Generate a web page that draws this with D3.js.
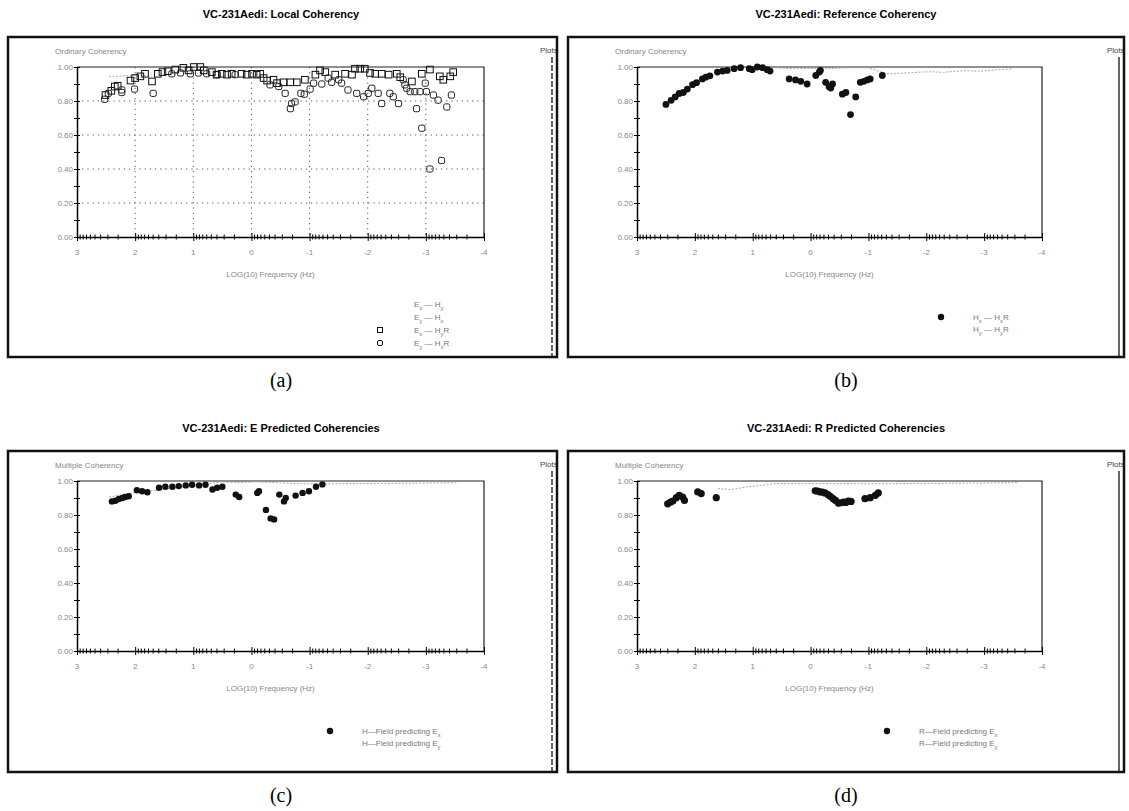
<!DOCTYPE html>
<html>
<head>
<meta charset="utf-8">
<script src="https://cdn.jsdelivr.net/npm/d3@7"></script>
<style>
body { margin: 0; background: #fff; }
text { font-family: "Liberation Sans", Arial, sans-serif; }
</style>
</head>
<body>
<svg id="fig" width="1129" height="811"></svg>
<script>
// ---- data ----
const xTicks = [3, 2, 1, 0, -1, -2, -3, -4];
const xTickLabels = ["3", "2", "1", "0", "-1", "-2", "-3", "-4"];
const yTicks = [0, 0.2, 0.4, 0.6, 0.8, 1.0];
const yTickLabels = ["0.00", "0.20", "0.40", "0.60", "0.80", "1.00"];
const panelTitles = ["VC-231Aedi: Local Coherency", "VC-231Aedi: Reference Coherency",
                     "VC-231Aedi: E Predicted Coherencies", "VC-231Aedi: R Predicted Coherencies"];
const yTitles = ["Ordinary Coherency", "Ordinary Coherency", "Multiple Coherency", "Multiple Coherency"];
const captions = ["(a)", "(b)", "(c)", "(d)"];
const xTitles = ["LOG(10) Frequency (Hz)", "LOG(10) Frequency (Hz)", "LOG(10) Frequency (Hz)", "LOG(10) Frequency (Hz)"];

// (a) local coherency
const localExyR_x = [2.51, 2.41, 2.35, 2.30, 2.08, 2.00, 1.91, 1.83, 1.71, 1.61, 1.53, 1.44, 1.31, 1.17, 1.08, 0.99, 0.88, 0.82, 0.68, 0.60,
                     0.51, 0.42, 0.34, 0.17, 0.08, -0.01, -0.09, -0.15, -0.21, -0.27, -0.38, -0.44, -0.55, -0.67, -0.78, -0.92, -1.10, -1.18, -1.27, -1.44,
                     -1.61, -1.73, -1.78, -1.87, -1.95, -2.04, -2.13, -2.24, -2.36, -2.50, -2.56, -2.76, -2.93, -3.07, -3.24, -3.30, -3.42, -3.47];
const localExyR_y = [0.835, 0.86, 0.885, 0.89, 0.92, 0.935, 0.945, 0.96, 0.915, 0.96, 0.97, 0.975, 0.985, 0.995, 0.98, 1.0, 1.0, 0.98, 0.97, 0.955,
                     0.96, 0.955, 0.96, 0.96, 0.955, 0.96, 0.955, 0.96, 0.935, 0.92, 0.925, 0.905, 0.91, 0.91, 0.91, 0.925, 0.955, 0.98, 0.97, 0.955,
                     0.96, 0.955, 0.99, 0.99, 0.99, 0.965, 0.96, 0.96, 0.955, 0.96, 0.94, 0.915, 0.96, 0.985, 0.945, 0.925, 0.945, 0.97];
const localEyxR_x = [2.525, 2.46, 2.23, 2.23, 2.01, 1.69, 1.37, 1.22, 1.05, 0.91, 0.77, 0.59, 0.28, -0.32, -0.47, -0.58, -0.69, -0.67, -0.75, -0.85,
                     -0.91, -1.01, -1.07, -1.21, -1.32, -1.38, -1.50, -1.55, -1.66, -1.81, -1.93, -2.01, -2.07, -2.18, -2.24, -2.38, -2.44, -2.53, -2.61, -2.64,
                     -2.67, -2.73, -2.81, -2.84, -2.90, -2.93, -2.99, -3.01, -3.07, -3.13, -3.21, -3.27, -3.36, -3.44];
const localEyxR_y = [0.81, 0.845, 0.865, 0.85, 0.87, 0.845, 0.96, 0.965, 0.96, 0.965, 0.96, 0.955, 0.955, 0.895, 0.885, 0.845, 0.785, 0.755, 0.795, 0.845,
                     0.84, 0.87, 0.905, 0.9, 0.935, 0.91, 0.925, 0.905, 0.865, 0.845, 0.825, 0.845, 0.875, 0.845, 0.785, 0.845, 0.825, 0.785, 0.925, 0.895,
                     0.875, 0.855, 0.855, 0.755, 0.855, 0.64, 0.905, 0.855, 0.40, 0.835, 0.805, 0.45, 0.765, 0.835];
const localExy_x = [2.45, 2.3, 2.15, 2.0, 1.85, 1.72];
const localExy_y = [0.945, 0.945, 0.95, 0.95, 0.95, 0.945];

// (b) reference coherency
const refHx_x = [2.50, 2.41, 2.34, 2.27, 2.20, 2.13, 2.04, 1.97, 1.87, 1.81, 1.74, 1.61, 1.52, 1.44, 1.32, 1.21, 1.06, 1.01, 0.92, 0.83,
                 0.75, 0.70, 0.37, 0.26, 0.17, 0.06, -0.09, -0.15, -0.17, -0.26, -0.32, -0.35, -0.38, -0.55, -0.61, -0.69, -0.78, -0.86, -0.92, -0.98,
                 -1.03, -1.24];
const refHx_y = [0.78, 0.804, 0.824, 0.844, 0.85, 0.87, 0.896, 0.908, 0.93, 0.94, 0.948, 0.97, 0.976, 0.98, 0.99, 0.996, 0.99, 0.984, 1.0, 0.996,
                 0.984, 0.976, 0.93, 0.924, 0.916, 0.90, 0.95, 0.97, 0.98, 0.91, 0.884, 0.876, 0.90, 0.84, 0.85, 0.72, 0.824, 0.91, 0.916, 0.924,
                 0.93, 0.95];
const refHy_x = [0.6, 0.3, 0.0, -0.3, -0.6, -1.0, -1.32, -1.5, -1.7, -1.9, -2.1, -2.3, -2.5, -2.7, -2.9, -3.1, -3.3, -3.5];
const refHy_y = [0.995, 0.99, 0.992, 0.99, 0.995, 0.995, 0.96, 0.962, 0.966, 0.97, 0.972, 0.968, 0.975, 0.978, 0.975, 0.98, 0.985, 0.99];

// (c) E predicted coherencies
const ePredEx_x = [2.40, 2.34, 2.28, 2.22, 2.17, 2.11, 1.97, 1.88, 1.79, 1.59, 1.48, 1.36, 1.25, 1.13, 1.02, 0.90, 0.79, 0.67, 0.59, 0.50,
                   0.27, 0.21, -0.10, -0.13, -0.25, -0.33, -0.39, -0.48, -0.56, -0.59, -0.76, -0.88, -0.99, -1.11, -1.22];
const ePredEx_y = [0.88, 0.884, 0.894, 0.90, 0.906, 0.91, 0.946, 0.94, 0.934, 0.96, 0.966, 0.966, 0.97, 0.974, 0.978, 0.974, 0.978, 0.95, 0.96, 0.966,
                   0.92, 0.906, 0.93, 0.94, 0.83, 0.78, 0.774, 0.92, 0.88, 0.90, 0.914, 0.93, 0.94, 0.966, 0.98];
const ePredEy_x = [2.45, 2.3, 2.15, 0.5, 0.2, -0.1, -0.4, -0.8, -1.22, -1.5, -1.8, -2.1, -2.4, -2.7, -3.0, -3.3, -3.55];
const ePredEy_y = [0.905, 0.915, 0.925, 0.995, 0.99, 0.995, 0.99, 0.985, 0.982, 0.984, 0.985, 0.985, 0.986, 0.987, 0.988, 0.989, 0.99];

// (d) R predicted coherencies
const rPredEx_x = [2.47, 2.42, 2.38, 2.32, 2.27, 2.21, 2.18, 1.95, 1.89, 1.63, -0.08, -0.12, -0.16, -0.20, -0.25, -0.30, -0.34, -0.39, -0.43, -0.48,
                   -0.52, -0.57, -0.61, -0.65, -0.70, -0.94, -1.03, -1.12, -1.17];
const rPredEx_y = [0.866, 0.876, 0.882, 0.902, 0.916, 0.906, 0.886, 0.936, 0.926, 0.902, 0.942, 0.94, 0.936, 0.934, 0.93, 0.92, 0.91, 0.896, 0.886, 0.87,
                   0.872, 0.876, 0.874, 0.882, 0.88, 0.896, 0.902, 0.916, 0.93];
const rPredEy_x = [1.6, 1.37, 1.08, 0.85, 0.6, -1.3, -1.6, -1.9, -2.2, -2.5, -2.8, -3.1, -3.4, -3.6];
const rPredEy_y = [0.955, 0.95, 0.966, 0.975, 0.985, 0.984, 0.985, 0.986, 0.986, 0.987, 0.988, 0.988, 0.99, 0.99];

const legendA = ["E_x — H_y", "E_y — H_x", "E_x — H_yR", "E_y — H_xR"];
const legendB = ["H_x — H_xR", "H_y — H_yR"];
const legendC = ["H—Field predicting E_x", "H—Field predicting E_y"];
const legendD = ["R—Field predicting E_x", "R—Field predicting E_y"];

// ---- layout ----
const panels = [
    { fx: 8,   fy: 37,  fw: 549, fh: 320, px0: 77,  px1: 484,  py0: 67,  py1: 237, cx: 281 },
    { fx: 568, fy: 37,  fw: 556, fh: 320, px0: 637, px1: 1042, py0: 67,  py1: 237, cx: 846 },
    { fx: 8,   fy: 451, fw: 549, fh: 321, px0: 77,  px1: 484,  py0: 481, py1: 651, cx: 281 },
    { fx: 568, fy: 451, fw: 556, fh: 321, px0: 637, px1: 1042, py0: 481, py1: 651, cx: 846 }
];

const svg = d3.select("#fig");

function zip(xs, ys) { return xs.map((x, i) => [x, ys[i]]); }

// label with "_c" meaning subscript c
function richText(sel, str) {
    let parts = str.split(/_(.)/);
    parts.forEach((p, i) => {
        if (p == "") return;
        let t = sel.append("tspan").text(p);
        if (i % 2 == 1) t.attr("baseline-shift", "sub").style("font-size", "6px");
    });
}

function drawPanel(i, series, legend, legendPos, grid) {
    const p = panels[i];
    const g = svg.append("g");

    let x = d3.scaleLinear().domain([3, -4]).range([p.px0, p.px1]);
    let y = d3.scaleLinear().domain([0, 1]).range([p.py1, p.py0]);

    // title + caption
    g.append("text")
        .attr("x", p.cx).attr("y", p.fy - 19)
        .attr("text-anchor", "middle")
        .style("font-weight", "bold").style("font-size", "11px")
        .text(panelTitles[i]);
    g.append("text")
        .attr("x", p.cx).attr("y", p.fy + p.fh + 30)
        .attr("text-anchor", "middle")
        .style("font-family", "'Liberation Serif', 'Times New Roman', serif")
        .style("font-size", "20px")
        .text(captions[i]);

    // window frame
    let clipId = "clip" + i;
    g.append("clipPath").attr("id", clipId)
        .append("rect").attr("x", p.fx).attr("y", p.fy).attr("width", p.fw).attr("height", p.fh);
    g.append("text")
        .attr("clip-path", "url(#" + clipId + ")")
        .attr("x", p.fx + p.fw - 17).attr("y", p.fy + 16)
        .style("font-size", "8px").style("fill", "#444")
        .text("Plots");
    g.append("line")
        .attr("x1", p.fx + p.fw - 5).attr("x2", p.fx + p.fw - 5)
        .attr("y1", p.fy + 20).attr("y2", p.fy + p.fh)
        .style("stroke", "#333").style("stroke-width", 1.5)
        .style("stroke-dasharray", i % 2 == 0 ? "6,2" : null);
    g.append("rect")
        .attr("x", p.fx).attr("y", p.fy).attr("width", p.fw).attr("height", p.fh)
        .style("fill", "none").style("stroke", "#111").style("stroke-width", 2.5);

    // grid (only the local coherency plot has one)
    if (grid) {
        g.append("g").selectAll("line").data(xTicks.slice(1, -1)).join("line")
            .attr("x1", d => x(d)).attr("x2", d => x(d))
            .attr("y1", p.py0).attr("y2", p.py1)
            .style("stroke", "#555").style("stroke-width", 1).style("stroke-dasharray", "1.2,4");
        g.append("g").selectAll("line").data(yTicks.slice(1, -1)).join("line")
            .attr("x1", p.px0).attr("x2", p.px1)
            .attr("y1", d => y(d)).attr("y2", d => y(d))
            .style("stroke", "#555").style("stroke-width", 1).style("stroke-dasharray", "1.2,4");
    }

    // plot box
    g.append("path")
        .attr("d", `M${p.px0},${p.py0}H${p.px1}V${p.py1}`)
        .style("fill", "none").style("stroke", "#222").style("stroke-width", 1.2);

    // y axis, ticks every 0.1 crossing the spine
    let yAxis = d3.axisLeft(y).tickValues(d3.range(0, 1.001, 0.1)).tickSizeInner(4).tickSizeOuter(0).tickFormat("");
    let ya = g.append("g").attr("transform", `translate(${p.px0},0)`).call(yAxis);
    ya.selectAll(".tick line").attr("x2", -3).attr("x1", 3);
    ya.select(".domain").style("stroke-width", 1.5);
    g.append("g").selectAll("text").data(yTicks).join("text")
        .attr("x", p.px0 - 4).attr("y", d => y(d) + 3)
        .attr("text-anchor", "end")
        .style("font-size", "8px").style("fill", "#888")
        .text((d, k) => yTickLabels[k]);
    g.append("text")
        .attr("x", p.px0 - 22).attr("y", p.py0 - 13)
        .style("font-size", "8px").style("fill", "#888")
        .text(yTitles[i]);

    // x axis, integer decades plus log minor ticks
    let minor = [];
    for (let d = 3; d > -4; d--)
        for (let k = 2; k <= 9; k++) minor.push(d - 1 + Math.log10(k));
    let xa = g.append("g").attr("transform", `translate(0,${p.py1})`)
        .call(d3.axisBottom(x).tickValues(minor).tickSizeOuter(0).tickFormat(""));
    xa.selectAll(".tick line").attr("y1", -2.5).attr("y2", 2.5);
    xa.select(".domain").style("stroke-width", 1.5);
    let xm = g.append("g").attr("transform", `translate(0,${p.py1})`)
        .call(d3.axisBottom(x).tickValues(xTicks).tickSizeOuter(0).tickFormat(""));
    xm.selectAll(".tick line").attr("y1", -4).attr("y2", 4);
    xm.select(".domain").remove();
    g.append("g").selectAll("text").data(xTicks).join("text")
        .attr("x", d => x(d)).attr("y", p.py1 + 18)
        .attr("text-anchor", "middle")
        .style("font-size", "8px").style("fill", "#888")
        .text((d, k) => xTickLabels[k]);
    g.append("text")
        .attr("x", (p.px0 + p.px1) / 2 - 10).attr("y", p.py1 + 40)
        .attr("text-anchor", "middle")
        .style("font-size", "8px").style("fill", "#888")
        .text(xTitles[i]);

    // series
    series.forEach(s => {
        let pts = zip(s.x, s.y);
        if (s.kind == "line") {
            g.append("path")
                .datum(pts)
                .attr("d", d3.line().x(d => x(d[0])).y(d => y(d[1])))
                .style("fill", "none").style("stroke", "#aaa").style("stroke-width", 1)
                .style("stroke-dasharray", "2,1.5");
        } else if (s.kind == "square") {
            g.append("g").selectAll("rect").data(pts).join("rect")
                .attr("x", d => x(d[0]) - 3.3).attr("y", d => y(d[1]) - 3.3)
                .attr("width", 6.6).attr("height", 6.6)
                .style("fill", "none").style("stroke", "#111").style("stroke-width", 1);
        } else if (s.kind == "circle") {
            g.append("g").selectAll("rect").data(pts).join("rect")
                .attr("x", d => x(d[0]) - 3.1).attr("y", d => y(d[1]) - 3.1)
                .attr("width", 6.2).attr("height", 6.2).attr("rx", 1.8)
                .style("fill", "none").style("stroke", "#222").style("stroke-width", 1);
        } else {
            g.append("g").selectAll("circle").data(pts).join("circle")
                .attr("cx", d => x(d[0])).attr("cy", d => y(d[1]))
                .attr("r", s.r || 3.2)
                .style("fill", "#111");
        }
    });

    // legend
    legend.forEach((lab, k) => {
        let ly = legendPos.y + k * legendPos.dy;
        let t = g.append("text")
            .attr("x", legendPos.tx).attr("y", ly + 3)
            .style("font-size", "8px").style("fill", "#777");
        richText(t, lab);
        let sym = legendPos.sym[k];
        if (sym == "square") {
            g.append("rect").attr("x", legendPos.sx - 2.5).attr("y", ly - 2.5)
                .attr("width", 5).attr("height", 5)
                .style("fill", "none").style("stroke", "#111");
        } else if (sym == "circle") {
            g.append("rect").attr("x", legendPos.sx - 2.5).attr("y", ly - 2.5)
                .attr("width", 5).attr("height", 5).attr("rx", 1.5)
                .style("fill", "none").style("stroke", "#111");
        } else if (sym == "dot") {
            g.append("circle").attr("cx", legendPos.sx).attr("cy", ly).attr("r", 3.2)
                .style("fill", "#111");
        }
    });
}

drawPanel(0, [
    { x: localExy_x, y: localExy_y, kind: "line" },
    { x: localEyxR_x, y: localEyxR_y, kind: "circle" },
    { x: localExyR_x, y: localExyR_y, kind: "square" }
], legendA, { sx: 380, tx: 414, y: 304, dy: 13, sym: [null, null, "square", "circle"] }, true);

drawPanel(1, [
    { x: refHy_x, y: refHy_y, kind: "line" },
    { x: refHx_x, y: refHx_y, kind: "dot", r: 3.4 }
], legendB, { sx: 941, tx: 973, y: 317, dy: 12, sym: ["dot", null] }, false);

drawPanel(2, [
    { x: ePredEy_x, y: ePredEy_y, kind: "line" },
    { x: ePredEx_x, y: ePredEx_y, kind: "dot", r: 3.2 }
], legendC, { sx: 330, tx: 362, y: 731, dy: 12, sym: ["dot", null] }, false);

drawPanel(3, [
    { x: rPredEy_x, y: rPredEy_y, kind: "line" },
    { x: rPredEx_x, y: rPredEx_y, kind: "dot", r: 3.6 }
], legendD, { sx: 887, tx: 919, y: 731, dy: 12, sym: ["dot", null] }, false);
</script>
</body>
</html>
